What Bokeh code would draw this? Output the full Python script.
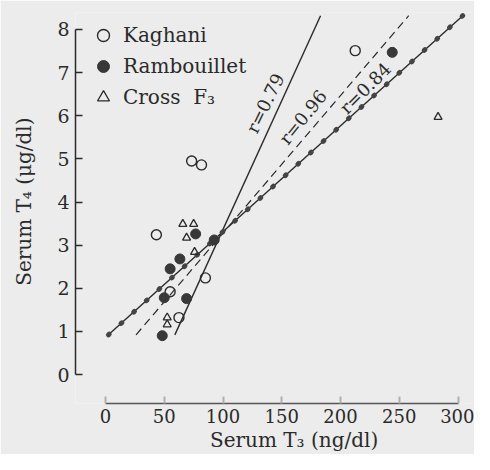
from bokeh.plotting import figure
from bokeh.models import Range1d, FixedTicker, Legend, LegendItem, ColumnDataSource
from bokeh.core.properties import value
from bokeh.embed import file_html
from bokeh.resources import INLINE
import math

# ---- data ----
kaghani_x = [73.3, 81.7, 43.3, 85.0, 55.0, 62.5, 212.5]
kaghani_y = [4.95, 4.86, 3.24, 2.24, 1.92, 1.32, 7.51]

ramb_x = [76.7, 63.3, 55.0, 50.0, 69.0, 48.3, 92.5, 244.0]
ramb_y = [3.26, 2.68, 2.45, 1.78, 1.76, 0.90, 3.12, 7.47]

cross_x = [65.8, 75.0, 69.0, 75.8, 52.5, 52.5, 283.0]
cross_y = [3.49, 3.49, 3.17, 2.84, 1.32, 1.16, 5.97]

# regression lines (end points)
fit079_x = [59.0, 183.0]
fit079_y = [0.92, 8.32]
fit096_x = [26.0, 258.0]
fit096_y = [0.92, 8.32]
fit084_x = [2.5, 304.0]
fit084_y = [0.92, 8.32]

r_labels = ["r=0.79", "r=0.96", "r=0.84"]

x_ticks = [0, 50, 100, 150, 200, 250, 300]
y_ticks = [0, 1, 2, 3, 4, 5, 6, 7, 8]

# ---- styling ----
INK = "#2a2a2a"
BG = "#ececec"
FONT = "DejaVu Serif"
NB = "\u00a0"

p = figure(width=474, height=454, output_backend="svg", toolbar_location=None,
           x_range=Range1d(-25.53, 314.0), y_range=Range1d(-0.672, 8.394),
           min_border_left=75, min_border_right=0, min_border_top=12, min_border_bottom=51,
           background_fill_color=BG, border_fill_color=BG, outline_line_color=None)
p.grid.visible = False

# axes
xa = p.xaxis[0]
xa.ticker = FixedTicker(ticks=x_ticks)
xa.bounds = (0, 300)
xa.axis_line_color = "#555555"
xa.axis_line_width = 1.5
xa.major_tick_in = 7
xa.major_tick_out = 0
xa.major_tick_line_color = "#b0b0b0"
xa.major_tick_line_width = 2
xa.minor_tick_line_color = None
xa.major_label_standoff = 5
xa.major_label_text_font = FONT
xa.major_label_text_font_size = "18px"
xa.major_label_text_color = INK
xa.axis_label = NB * 7 + "Serum  T\u2083 (ng/dl)"
xa.axis_label_text_font = FONT
xa.axis_label_text_font_size = "20px"
xa.axis_label_text_font_style = "normal"
xa.axis_label_text_color = INK
xa.axis_label_standoff = 2

ya = p.yaxis[0]
ya.ticker = FixedTicker(ticks=y_ticks)
ya.bounds = (0, 8)
ya.axis_line_color = INK
ya.axis_line_width = 1.5
ya.major_tick_in = 7
ya.major_tick_out = 0
ya.major_tick_line_color = INK
ya.major_tick_line_width = 1.5
ya.minor_tick_line_color = None
ya.major_label_standoff = 6
ya.major_label_text_font = FONT
ya.major_label_text_font_size = "19px"
ya.major_label_text_color = INK
ya.axis_label = NB * 5 + "Serum  T\u2084   (\u03bcg/dl)"
ya.axis_label_text_font = FONT
ya.axis_label_text_font_size = "20px"
ya.axis_label_text_font_style = "normal"
ya.axis_label_text_color = INK
ya.axis_label_standoff = 18

# regression lines
p.line(fit079_x, fit079_y, line_color=INK, line_width=1.4)
p.line(fit096_x, fit096_y, line_color=INK, line_width=1.2, line_dash="8 5")
p.line(fit084_x, fit084_y, line_color=INK, line_width=1.4)
p.line(fit084_x, fit084_y, line_color="#444444", line_width=5, line_dash="1 16", line_cap="round")

# r labels along the lines
lab_src = ColumnDataSource(dict(
    x=[135.8, 168.0, 221.0],
    y=[6.29, 5.97, 6.64],
    text=r_labels,
    angle=[math.radians(64), math.radians(51), math.radians(45)],
))
p.text(x="x", y="y", text="text", angle="angle", source=lab_src,
       text_font=value(FONT), text_font_size="18px", text_color=INK,
       text_align="center", text_baseline="middle")

# data points
rk = p.scatter(kaghani_x, kaghani_y, marker="circle", size=10,
               fill_color=None, line_color=INK, line_width=1.4)
rr = p.scatter(ramb_x, ramb_y, marker="circle", size=10,
               fill_color="#383838", line_color="#383838", line_width=1)
rc = p.scatter(cross_x, cross_y, marker="triangle", size=8,
               fill_color=None, line_color=INK, line_width=1.3)

legend = Legend(items=[
    LegendItem(label="Kaghani", renderers=[rk]),
    LegendItem(label="Rambouillet", renderers=[rr]),
    LegendItem(label="Cross  F\u2083", renderers=[rc]),
], location="top_left", orientation="vertical", margin=8, padding=13,
    glyph_width=40, glyph_height=30, spacing=1, label_standoff=0,
    label_text_font=FONT, label_text_font_size="20px", label_text_color=INK,
    border_line_color=None, background_fill_alpha=0)
p.add_layout(legend)

open("out.html", "w").write(file_html(p, INLINE))
